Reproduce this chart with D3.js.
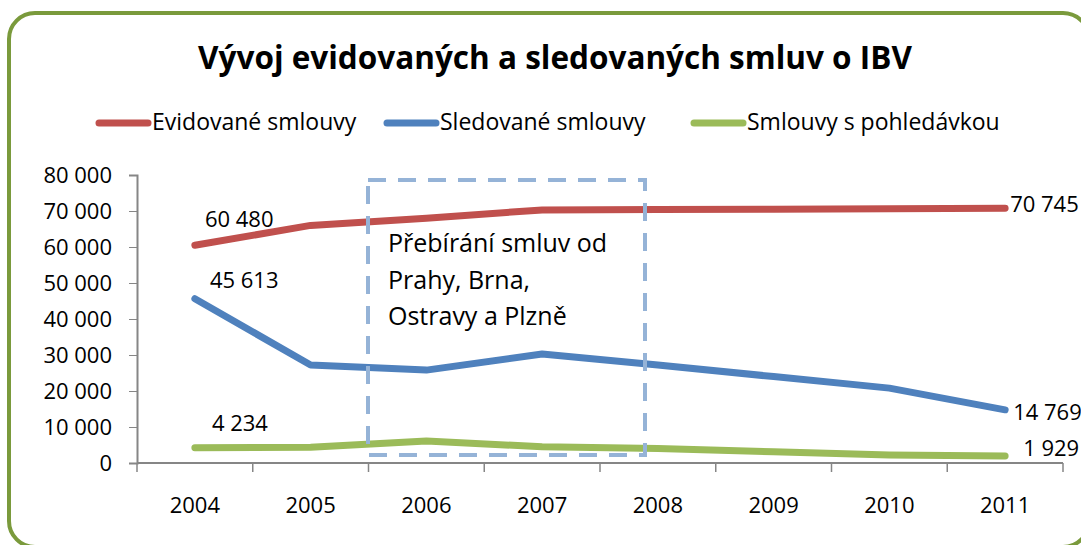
<!DOCTYPE html>
<html>
<head>
<meta charset="utf-8">
<script src="https://cdn.jsdelivr.net/npm/d3@7"></script>
<style>
  body { margin: 0; background: #fff; }
  svg { display: block; font-family: "Open Sans", Lato, sans-serif; }
</style>
</head>
<body>
<div id="chart"></div>
<script>
// data
var years = ["2004", "2005", "2006", "2007", "2008", "2009", "2010", "2011"];
var evidovane = [60480, 66000, 68000, 70300, 70400, 70500, 70600, 70745];
var sledovane = [45613, 27200, 25800, 30300, 27200, 24000, 20800, 14769];
var pohledavka = [4234, 4400, 6100, 4500, 4000, 3100, 2200, 1929];
var yTicks = [0, 10000, 20000, 30000, 40000, 50000, 60000, 70000, 80000];
var seriesNames = ["Evidované smlouvy", "Sledované smlouvy", "Smlouvy s pohledávkou"];
var seriesColors = ["#C0504D", "#4F81BD", "#9BBB59"];
var allSeries = [evidovane, sledovane, pohledavka];

var W = 1081, H = 545;
var margin = { top: 175, left: 137 };

var svg = d3.select("#chart")
    .append("svg")
    .attr("width", W)
    .attr("height", H);

// rounded green frame
svg.append("rect")
    .attr("x", 9).attr("y", 13)
    .attr("width", 1080).attr("height", 534)
    .attr("rx", 26).attr("ry", 26)
    .attr("fill", "#fff")
    .attr("stroke", "#7A9A3C")
    .attr("stroke-width", 4);

// title
svg.append("text")
    .attr("x", 555).attr("y", 69)
    .attr("text-anchor", "middle")
    .attr("font-size", 31.5)
    .attr("font-weight", "bold")
    .text("Vývoj evidovaných a sledovaných smluv o IBV");

// legend
var legendX = [97, 385, 692];
seriesNames.forEach(function (name, i) {
    var lg = svg.append("g").attr("transform", "translate(" + legendX[i] + ",123)");
    lg.append("line")
        .attr("x1", 2).attr("x2", 51)
        .attr("stroke", seriesColors[i])
        .attr("stroke-width", 7)
        .attr("stroke-linecap", "round");
    lg.append("text")
        .attr("x", 55).attr("y", 7)
        .attr("font-size", 23)
        .text(name);
});

var g = svg.append("g")
    .attr("transform", "translate(" + margin.left + "," + margin.top + ")");

var x = d3.scaleBand().domain(years).range([0, 926]);
var y = d3.scaleLinear().domain([0, 80000]).range([288, 0]);

var fmt = function (v) { return d3.format(",")(v).replace(/,/g, " "); };

// y axis
var yAxis = g.append("g")
    .call(d3.axisLeft(y).tickValues(yTicks).tickSize(8).tickPadding(17).tickFormat(fmt));
yAxis.selectAll("text").attr("font-size", 22).attr("fill", "#000").attr("font-family", "'Open Sans', sans-serif");
yAxis.selectAll("line").attr("stroke", "#868686");
yAxis.select(".domain").attr("stroke", "#868686").attr("stroke-width", 2);

// x axis, ticks on category boundaries
var xAxis = g.append("g")
    .attr("transform", "translate(0,288)");
xAxis.append("line")
    .attr("x1", 0).attr("x2", 926)
    .attr("stroke", "#868686").attr("stroke-width", 2);
var bounds = years.map(function (d) { return x(d); }).concat([926]);
xAxis.selectAll(".tk").data(bounds).enter().append("line")
    .attr("x1", function (d) { return d; }).attr("x2", function (d) { return d; })
    .attr("y1", 0).attr("y2", 9)
    .attr("stroke", "#868686").attr("stroke-width", 1.5);
xAxis.selectAll(".lbl").data(years).enter().append("text")
    .attr("x", function (d) { return x(d) + x.bandwidth() / 2; })
    .attr("y", 50)
    .attr("text-anchor", "middle")
    .attr("font-size", 22)
    .text(function (d) { return d; });

// dashed annotation box
svg.append("path")
    .attr("d", "M368,180 L645,180 L645,455 L368,455 Z")
    .attr("fill", "none")
    .attr("stroke", "#95B3D7")
    .attr("stroke-width", 4)
    .attr("stroke-dasharray", "18,12");

// lines
var line = d3.line()
    .x(function (d, i) { return x(years[i]) + x.bandwidth() / 2; })
    .y(function (d) { return y(d); });

allSeries.forEach(function (s, i) {
    g.append("path")
        .datum(s)
        .attr("fill", "none")
        .attr("stroke", seriesColors[i])
        .attr("stroke-width", 7)
        .attr("stroke-linecap", "round")
        .attr("stroke-linejoin", "round")
        .attr("d", line);
});

// annotation text
var note = ["Přebírání smluv od", "Prahy, Brna,", "Ostravy a Plzně"];
svg.selectAll(".note").data(note).enter().append("text")
    .attr("x", 388)
    .attr("y", function (d, i) { return 252 + i * 36.5; })
    .attr("font-size", 25)
    .text(function (d) { return d; });

// data labels at first and last points
var cx0 = x(years[0]) + x.bandwidth() / 2;
var cxN = x(years[years.length - 1]) + x.bandwidth() / 2;
var firstOff = [[10, -18], [15, -11], [17, -17]];
var lastOff = [[5, 4], [8, 10], [18, 0]];
allSeries.forEach(function (s, i) {
    g.append("text")
        .attr("x", cx0 + firstOff[i][0])
        .attr("y", y(s[0]) + firstOff[i][1])
        .attr("font-size", 22)
        .text(fmt(s[0]));
    g.append("text")
        .attr("x", cxN + lastOff[i][0])
        .attr("y", y(s[s.length - 1]) + lastOff[i][1])
        .attr("font-size", 22)
        .text(fmt(s[s.length - 1]));
});
</script>
</body>
</html>
